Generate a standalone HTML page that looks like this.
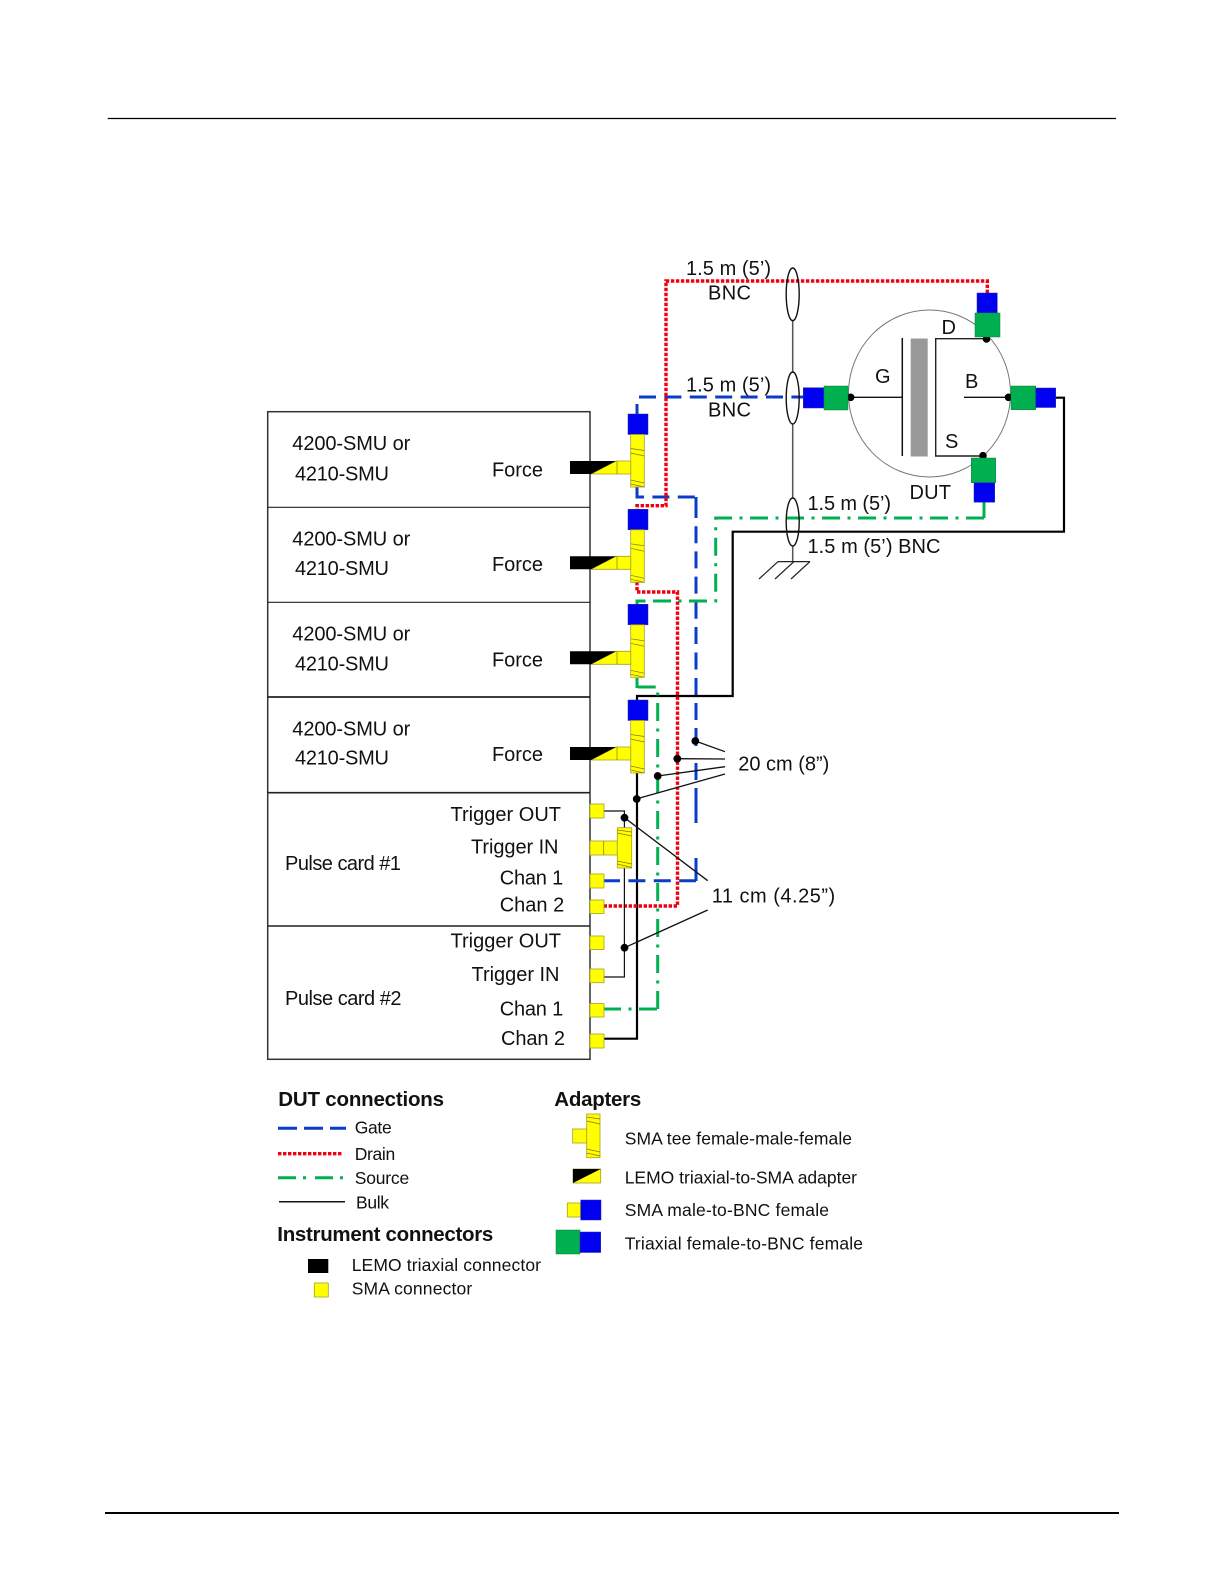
<!DOCTYPE html>
<html><head><meta charset="utf-8"><style>
html,body{margin:0;padding:0;background:#fff}
svg{display:block;filter:blur(0.35px)}
text{font-family:"Liberation Sans",sans-serif;font-size:20px;fill:#111}
.s{font-size:17.5px}
.b{font-weight:bold;font-size:20.5px}
.y{fill:#ffff00;stroke:#a8a020;stroke-width:.8}
.t{fill:none;stroke:#807818;stroke-width:.7}
.bl{fill:#0000f0;stroke:#2a2aa0;stroke-width:.5}
.gr{fill:#00b050;stroke:#108040;stroke-width:.5}
.gate{fill:none;stroke:#0a3cc8;stroke-width:3;stroke-dasharray:17 8.4}
.gates{fill:none;stroke:#0a3cc8;stroke-width:3}
.drain{fill:none;stroke:#f00010;stroke-width:3.4;stroke-dasharray:3.4 1.6}
.src{fill:none;stroke:#00b050;stroke-width:3;stroke-dasharray:18 7.5 3 7.5}
.srcs{fill:none;stroke:#00b050;stroke-width:3}
.bulk{fill:none;stroke:#000;stroke-width:2.2}
.thin{fill:none;stroke:#111;stroke-width:1.2}
</style></head><body>
<svg width="1224" height="1584" viewBox="0 0 1224 1584" xmlns="http://www.w3.org/2000/svg">
<rect width="1224" height="1584" fill="#fff"/>
<line x1="107.7" y1="118.5" x2="1116" y2="118.5" stroke="#000" stroke-width="1.2"/>
<line x1="105" y1="1513" x2="1119" y2="1513" stroke="#000" stroke-width="2"/>

<!-- instrument boxes -->
<rect x="267.7" y="411.7" width="322.3" height="647.6" fill="#fff" stroke="#333" stroke-width="1.5"/>
<g stroke="#222" fill="none">
<line x1="267.7" y1="507.3" x2="590" y2="507.3" stroke-width="1.1"/>
<line x1="267.7" y1="602.3" x2="590" y2="602.3" stroke-width="1.1"/>
<line x1="267.7" y1="697" x2="590" y2="697" stroke-width="1.8"/>
<line x1="267.7" y1="792.7" x2="590" y2="792.7" stroke-width="1.6"/>
<line x1="267.7" y1="926" x2="590" y2="926" stroke-width="1.5"/>
</g>

<text x="292.3" y="450" textLength="118">4200-SMU or</text>
<text x="295" y="480.7" textLength="94">4210-SMU</text>
<text x="492" y="476.7" textLength="51">Force</text>
<text x="292.3" y="545.7" textLength="118">4200-SMU or</text>
<text x="295" y="575" textLength="94">4210-SMU</text>
<text x="492" y="571" textLength="51">Force</text>
<text x="292.3" y="640.3" textLength="118">4200-SMU or</text>
<text x="295" y="670.7" textLength="94">4210-SMU</text>
<text x="492" y="666.7" textLength="51">Force</text>
<text x="292.3" y="735.5" textLength="118">4200-SMU or</text>
<text x="295" y="764.5" textLength="94">4210-SMU</text>
<text x="492" y="761" textLength="51">Force</text>

<text x="285" y="870" textLength="116">Pulse card #1</text>
<text x="450.5" y="821" textLength="110.5">Trigger OUT</text>
<text x="471" y="853.3" textLength="87.5">Trigger IN</text>
<text x="499.7" y="884.3" textLength="63.5">Chan 1</text>
<text x="499.7" y="911.7" textLength="64.5">Chan 2</text>
<text x="285" y="1005" textLength="116.5">Pulse card #2</text>
<text x="450.5" y="947.3" textLength="110.5">Trigger OUT</text>
<text x="471.5" y="981" textLength="88">Trigger IN</text>
<text x="499.7" y="1015.7" textLength="63.5">Chan 1</text>
<text x="501" y="1045" textLength="64">Chan 2</text>

<!-- DUT -->
<ellipse cx="929.5" cy="393.5" rx="81" ry="83.5" fill="#fff" stroke="#777" stroke-width="1"/>
<line x1="902.3" y1="338" x2="902.3" y2="456" stroke="#111" stroke-width="1.5"/>
<rect x="910.7" y="338.5" width="17" height="118" fill="#999"/>
<path d="M986.5 338.7H935.7V456H983" fill="none" stroke="#222" stroke-width="1.4"/>
<line x1="850" y1="397.3" x2="902" y2="397.3" stroke="#111" stroke-width="1.4"/>
<line x1="964" y1="397.3" x2="1008" y2="397.3" stroke="#111" stroke-width="1.4"/>
<circle cx="986.5" cy="339" r="3.8"/><circle cx="983" cy="455.7" r="3.8"/>
<circle cx="850.7" cy="397.3" r="3.8"/><circle cx="1008.5" cy="397.3" r="3.8"/>
<text x="875" y="383">G</text><text x="941.5" y="334">D</text>
<text x="965" y="388">B</text><text x="945" y="448">S</text>
<text x="909.5" y="499" textLength="41.5">DUT</text>

<!-- cable bundles -->
<path d="M792.7 320V372M792.7 424V498M792.7 546V561" stroke="#555" stroke-width="1.5" fill="none"/>
<path d="M778 561.6H810M778 561.6L759 579M794 561.6L775 579M810 561.6L791 579" stroke="#222" stroke-width="1.2" fill="none"/>

<!-- wires -->
<path class="bulk" d="M637 700V696H732.7V531.7H1064V397.7H1055"/>
<path class="bulk" d="M637 773V1038.7H604"/>
<path class="gate" d="M637 414V404M639 397H803"/>
<path class="gate" d="M637 487V497H696"/>
<path class="gates" d="M696 497V518M696 526.2V543.2M696 551.4V568.4M696 576.6V593.6M696 601.8V618.8M696 627V644M696 652.5V669.5M696 678V695M696 703V720M696 728V746M696 763V780M696 788V823M696 858V881"/>
<path class="gate" d="M603 880.7H696"/>
<path class="srcs" d="M984 502V518"/>
<path class="src" d="M984 518H715.7V601H637V604"/>
<path class="srcs" d="M637 604V601H643"/>
<path class="src" d="M603 1009H657.7"/>
<path class="src" d="M657.7 1009V687H637V678"/>
<path class="srcs" d="M637 678V688"/>
<path class="drain" d="M987.3 293V281H666V505.7H637V510"/>
<path class="drain" d="M637 582V592H677.5V906H603"/>

<ellipse cx="792.7" cy="294.3" rx="6.5" ry="26.3" fill="none" stroke="#111" stroke-width="1.4"/>
<ellipse cx="792.7" cy="398" rx="6.5" ry="26" fill="none" stroke="#111" stroke-width="1.4"/>
<ellipse cx="792.7" cy="522" rx="6.5" ry="24" fill="none" stroke="#111" stroke-width="1.4"/>

<text x="686" y="275" textLength="85">1.5 m (5’)</text>
<text x="708" y="299.3" textLength="43">BNC</text>
<text x="686" y="391.7" textLength="85">1.5 m (5’)</text>
<text x="708" y="416.7" textLength="43">BNC</text>
<text x="807.5" y="510" textLength="83.5">1.5 m (5’)</text>
<text x="807.5" y="553" textLength="133">1.5 m (5’) BNC</text>

<!-- DUT adapters -->
<rect class="bl" x="977" y="293" width="20.3" height="20"/><rect class="gr" x="975" y="313" width="25" height="24"/>
<rect class="bl" x="803.3" y="387.7" width="20.7" height="20.3"/><rect class="gr" x="824" y="386" width="24" height="24"/>
<rect class="gr" x="1011" y="386" width="24.7" height="23.7"/><rect class="bl" x="1035.7" y="388" width="20" height="19.5"/>
<rect class="gr" x="971.3" y="458" width="24.4" height="24.7"/><rect class="bl" x="974" y="482.7" width="20.7" height="19.5"/>

<!-- tees -->
<g id="t1">
<rect class="bl" x="628" y="414" width="20" height="20.5"/>
<rect class="y" x="630.7" y="434.5" width="13.6" height="52.5"/>
<path class="t" d="M630.7 448.5L644.3 450.5M630.7 453L644.3 456M630.7 480L644.3 483M630.7 484L644.3 487"/>
<polygon class="y" points="591,474 616,461 630.7,461 630.7,474"/>
<line class="t" x1="617" y1="461" x2="617" y2="474"/>
<polygon points="570,461 616,461 591,474 570,474" fill="#000"/>
</g>
<g transform="translate(0,95.3)">
<rect class="bl" x="628" y="414" width="20" height="20.5"/>
<rect class="y" x="630.7" y="434.5" width="13.6" height="52.5"/>
<path class="t" d="M630.7 448.5L644.3 450.5M630.7 453L644.3 456M630.7 480L644.3 483M630.7 484L644.3 487"/>
<polygon class="y" points="591,474 616,461 630.7,461 630.7,474"/>
<line class="t" x1="617" y1="461" x2="617" y2="474"/>
<polygon points="570,461 616,461 591,474 570,474" fill="#000"/>
</g>
<g transform="translate(0,190.3)">
<rect class="bl" x="628" y="414" width="20" height="20.5"/>
<rect class="y" x="630.7" y="434.5" width="13.6" height="52.5"/>
<path class="t" d="M630.7 448.5L644.3 450.5M630.7 453L644.3 456M630.7 480L644.3 483M630.7 484L644.3 487"/>
<polygon class="y" points="591,474 616,461 630.7,461 630.7,474"/>
<line class="t" x1="617" y1="461" x2="617" y2="474"/>
<polygon points="570,461 616,461 591,474 570,474" fill="#000"/>
</g>
<g transform="translate(0,286)">
<rect class="bl" x="628" y="414" width="20" height="20.5"/>
<rect class="y" x="630.7" y="434.5" width="13.6" height="52.5"/>
<path class="t" d="M630.7 448.5L644.3 450.5M630.7 453L644.3 456M630.7 480L644.3 483M630.7 484L644.3 487"/>
<polygon class="y" points="591,474 616,461 630.7,461 630.7,474"/>
<line class="t" x1="617" y1="461" x2="617" y2="474"/>
<polygon points="570,461 616,461 591,474 570,474" fill="#000"/>
</g>

<!-- pulse card connectors -->
<path class="thin" d="M604 811H624.4V977H604"/>
<rect class="y" x="590" y="804" width="14" height="14"/>
<rect class="y" x="590" y="841" width="27.3" height="14"/>
<line class="t" x1="603.7" y1="841" x2="603.7" y2="855"/>
<rect class="y" x="617.3" y="827.7" width="14.4" height="40.3"/>
<path class="t" d="M617.3 830L631.7 832M617.3 833L631.7 836M617.3 861L631.7 864M617.3 864L631.7 867.5"/>
<rect class="y" x="590" y="874" width="14" height="14"/>
<rect class="y" x="590" y="900" width="14" height="13.5"/>
<rect class="y" x="590" y="936" width="14" height="13.5"/>
<rect class="y" x="590" y="969" width="14" height="13.7"/>
<rect class="y" x="590" y="1003.5" width="14" height="13.5"/>
<rect class="y" x="590" y="1034" width="14" height="14"/>

<!-- leaders -->
<g stroke="#111" stroke-width="1.3" fill="none">
<path d="M695.3 741L725 751.7M677.3 758.7L725 759M657.7 776L725 766.7M637 798.7L725 774"/>
<path d="M624.5 817.7L707.7 880.7M624.5 947.7L707.7 910"/>
</g>
<circle cx="695.3" cy="741" r="3.9"/><circle cx="677.3" cy="758.7" r="3.9"/>
<circle cx="657.7" cy="776" r="3.9"/><circle cx="636.7" cy="799" r="3.9"/>
<circle cx="624.5" cy="817.7" r="3.9"/><circle cx="624.5" cy="947.7" r="3.9"/>
<text x="738.3" y="770.7" textLength="91">20 cm (8”)</text>
<text x="711.7" y="902.3" textLength="123.5">11 cm (4.25”)</text>

<!-- legend -->
<text class="b" x="278.3" y="1106" textLength="165.7">DUT connections</text>
<text class="b" x="554.3" y="1106" textLength="87">Adapters</text>
<text class="b" x="277.3" y="1241" textLength="216">Instrument connectors</text>
<line class="gate" x1="278" y1="1128.3" x2="346" y2="1128.3" style="stroke-dasharray:19 7"/>
<line class="drain" x1="278" y1="1153.7" x2="342" y2="1153.7"/>
<line class="src" x1="278" y1="1177.7" x2="344" y2="1177.7" style="stroke-dasharray:18 7 3 9"/>
<line x1="279" y1="1201.7" x2="345" y2="1201.7" stroke="#111" stroke-width="1.5"/>
<text class="s" x="354.7" y="1133.3" textLength="37">Gate</text>
<text class="s" x="354.7" y="1160" textLength="40.5">Drain</text>
<text class="s" x="354.7" y="1184" textLength="54.5">Source</text>
<text class="s" x="356" y="1208.3" textLength="33">Bulk</text>
<rect x="308" y="1259" width="20.3" height="14" fill="#000"/>
<rect class="y" x="314.3" y="1283" width="14" height="14"/>
<text class="s" x="351.7" y="1271" textLength="189.3">LEMO triaxial connector</text>
<text class="s" x="351.7" y="1294.3" textLength="120.5">SMA connector</text>

<rect class="y" x="572.7" y="1129" width="14" height="14"/>
<rect class="y" x="586.7" y="1114" width="13.3" height="43.7"/>
<path class="t" d="M586.7 1117L600 1119M586.7 1121L600 1124M586.7 1149L600 1152M586.7 1153L600 1156"/>
<rect class="y" x="573" y="1169" width="27.7" height="14"/>
<polygon points="573,1169 600.7,1169 573,1183" fill="#000"/>
<rect class="y" x="567.3" y="1203" width="13.4" height="14"/>
<rect class="bl" x="580.7" y="1200" width="20.3" height="20"/>
<rect class="gr" x="556" y="1230" width="24" height="24"/>
<rect class="bl" x="580" y="1232" width="20.7" height="20.5"/>
<text class="s" x="624.7" y="1144.3" textLength="227.3">SMA tee female-male-female</text>
<text class="s" x="624.7" y="1183.3" textLength="232.3">LEMO triaxial-to-SMA adapter</text>
<text class="s" x="624.7" y="1216" textLength="204.3">SMA male-to-BNC female</text>
<text class="s" x="624.7" y="1249.3" textLength="238.3">Triaxial female-to-BNC female</text>
</svg>
</body></html>
